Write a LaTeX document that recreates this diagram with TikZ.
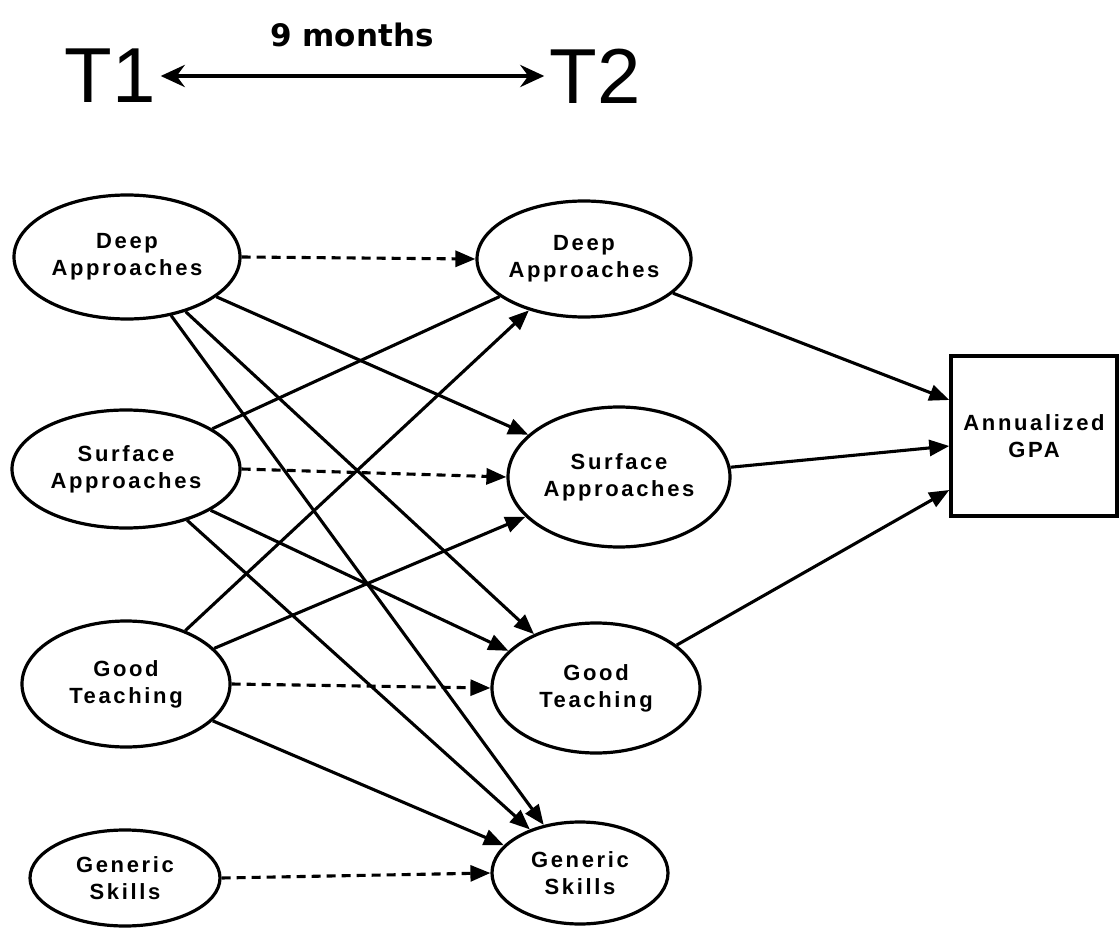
\documentclass[tikz,border=0pt]{standalone}
\usepackage{fontspec}
\setmainfont{Liberation Sans}
\newfontfamily\labelfont[LetterSpace=12]{Liberation Sans}
\newfontfamily\headfont{DejaVu Sans}
\usetikzlibrary{shapes.geometric,arrows.meta,calc}

\begin{document}
\begin{tikzpicture}[x=1pt,y=1pt,yscale=-1,xscale=1,
        latent/.style={ellipse,draw,line width=3.2pt,inner sep=0pt,align=center,font=\labelfont\bfseries\fontsize{22}{27}\selectfont},
        observed/.style={rectangle,draw,line width=3.4pt,inner sep=0pt,align=center,font=\labelfont\bfseries\fontsize{22}{27}\selectfont},
        effect/.style={line width=3.1pt,-{Triangle[length=20pt,width=16pt]}},
        autoreg/.style={effect,dash pattern=on 9pt off 6pt}]
        \useasboundingbox (0,0) rectangle (1120,928);

        \node [font=\fontsize{78}{78}\selectfont,inner sep=5pt] (t1) at (110,76) {T1};
        \node [font=\fontsize{78}{78}\selectfont,inner sep=5pt] (t2) at (595,76) {T2};
        \node [font=\headfont\bfseries\fontsize{31}{31}\selectfont] (span) at (352,35) {9 months};
        \draw [line width=4.5pt,{Stealth[length=24pt,width=22pt,inset=8pt]}-{Stealth[length=24pt,width=22pt,inset=8pt]}] (t1) -- (t2);

        \node [latent,minimum width=226pt,minimum height=124pt] (deep1) at (127,257) {Deep\\Approaches};
        \node [latent,minimum width=228pt,minimum height=118pt] (surf1) at (126,469) {Surface\\Approaches};
        \node [latent,minimum width=208pt,minimum height=126pt] (good1) at (126,684) {Good\\Teaching};
        \node [latent,minimum width=190pt,minimum height=96pt] (skill1) at (125,878) {Generic\\Skills};
        \node [latent,minimum width=214pt,minimum height=116pt] (deep2) at (584,259) {Deep\\Approaches};
        \node [latent,minimum width=222pt,minimum height=140pt] (surf2) at (619,477) {Surface\\Approaches};
        \node [latent,minimum width=208pt,minimum height=130pt] (good2) at (596,688) {Good\\Teaching};
        \node [latent,minimum width=176pt,minimum height=102pt] (skill2) at (580,873) {Generic\\Skills};
        \node [observed,minimum width=166pt,minimum height=160pt] (gpa) at (1034,436) {Annualized\\GPA};

        \draw [autoreg] (deep1.east) -- (deep2.west);
        \draw [autoreg] (surf1.east) -- (surf2.west);
        \draw [autoreg] (good1.east) -- (good2.west);
        \draw [autoreg] (skill1.east) -- (skill2.west);

        \draw [effect] (deep1.-24) -- (surf2.155);
        \draw [effect] (deep1.-43) -- (good2.139);
        \draw [effect] (deep1.-53) -- (skill2.127);
        \draw [line width=3.1pt] (surf1.25) -- (deep2.-156);
        \draw [effect] (surf1.-26) -- (good2.157);
        \draw [effect] (surf1.-40) -- (skill2.139);
        \draw [effect] (good1.42) -- (deep2.-137);
        \draw [effect] (good1.22) -- (surf2.-157);
        \draw [effect] (good1.-23) -- (skill2.160);

        \draw [effect] (deep2.-21) -- ($(gpa.west)+(0,-36)$);
        \draw [effect] (surf2.5) -- ($(gpa.west)+(0,10)$);
        \draw [effect] (good2.28) -- ($(gpa.west)+(0,54)$);
    \end{tikzpicture}
\end{document}
